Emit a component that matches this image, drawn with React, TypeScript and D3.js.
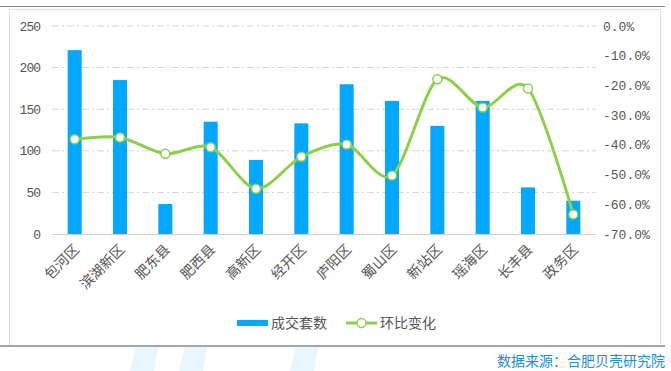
import React from "react";
import * as d3 from "d3";

const categories = ["包河区", "滨湖新区", "肥东县", "肥西县", "高新区", "经开区", "庐阳区", "蜀山区", "新站区", "瑶海区", "长丰县", "政务区"];
const deals = [221, 185, 36, 135, 89, 133, 180, 160, 130, 160, 56, 40];
const change = [-38.1, -37.5, -43.0, -40.8, -54.8, -44.0, -39.9, -50.3, -17.9, -27.4, -21.0, -63.4];
const leftTicks = [0, 50, 100, 150, 200, 250];
const rightTicks = [0, -10, -20, -30, -40, -50, -60, -70];

const BLUE = "#00a9ff";
const GREEN = "#8dcf4b";

export default function App() {
  const left = 52, right = 596, top = 26, bottom = 234;
  const x = d3.scaleBand<string>().domain(categories).range([left, right]).padding(0);
  const yL = d3.scaleLinear().domain([0, 250]).range([bottom, top]);
  const yR = d3.scaleLinear().domain([-70, 0]).range([bottom, top]);
  const bw = x.bandwidth();
  const barW = 14;
  const cx = (c: string) => (x(c) as number) + bw / 2;

  const line = d3
    .line<number>()
    .x((_, i) => cx(categories[i]))
    .y((d) => yR(d))
    .curve(d3.curveCardinal.tension(0.1));

  const numFont = "'Liberation Mono', 'DejaVu Sans Mono', monospace";
  const cjk = "'Noto Sans CJK SC', sans-serif";

  const water = [130, 179, 290];

  return (
    <svg width={671} height={371} style={{ position: "absolute", left: 0, top: 0, background: "#fff" }}>
      {water.map((wx, i) => (
        <polygon
          key={i}
          points={`${wx + 6},347 ${wx + 28},347 ${wx + 24},371 ${wx},371`}
          fill="#e8f7fd"
        />
      ))}
      <line x1={0} x2={665} y1={6.5} y2={6.5} stroke="#8a8a8a" strokeWidth={1.2} />
      <path d="M9.5,346 V9.5 H660.5 V344" fill="none" stroke="#dcdcdc" strokeWidth={1} />
      <line x1={0} x2={665} y1={346} y2={346} stroke="#8a8a8a" strokeWidth={1.4} />

      {leftTicks.filter((t) => t > 0).map((t) => (
        <line
          key={t}
          x1={left}
          x2={right}
          y1={yL(t)}
          y2={yL(t)}
          stroke="#d4d4d4"
          strokeDasharray="7,3,2,3"
        />
      ))}
      <line x1={left} x2={right} y1={bottom + 0.5} y2={bottom + 0.5} stroke="#cfcfcf" strokeWidth={1} />

      {leftTicks.map((t) => (
        <text key={t} x={40} y={yL(t)} dy="0.35em" textAnchor="end" fontSize={13} fill="#555" fontFamily={numFont} letterSpacing={-1}>
          {t}
        </text>
      ))}
      {rightTicks.map((t) => (
        <text key={t} x={603} y={yR(t)} dy="0.35em" textAnchor="start" fontSize={13} fill="#555" fontFamily={numFont}>
          {t.toFixed(1) + "%"}
        </text>
      ))}

      {categories.map((c, i) => (
        <rect key={c} x={cx(c) - barW / 2} y={yL(deals[i])} width={barW} height={bottom - yL(deals[i])} fill={BLUE} />
      ))}

      <path d={line(change) || ""} fill="none" stroke={GREEN} strokeWidth={3} />
      {change.map((v, i) => (
        <circle key={i} cx={cx(categories[i])} cy={yR(v)} r={4.5} fill="#fff" stroke={GREEN} strokeWidth={1.5} />
      ))}

      {categories.map((c) => (
        <text
          key={c}
          transform={`translate(${cx(c) + 2},${bottom + 13}) rotate(-45)`}
          textAnchor="end"
          dy="0.35em"
          fontSize={14}
          fill="#555"
          fontFamily={cjk}
        >
          {c}
        </text>
      ))}

      <rect x={237} y={320} width={31} height={6} fill={BLUE} />
      <text x={271} y={323.5} dy="0.35em" fontSize={14} fill="#555" fontFamily={cjk}>成交套数</text>
      <line x1={346} x2={377} y1={323} y2={323} stroke={GREEN} strokeWidth={3} />
      <circle cx={361.5} cy={323} r={4.5} fill="#fff" stroke={GREEN} strokeWidth={1.5} />
      <text x={380} y={323.5} dy="0.35em" fontSize={14} fill="#555" fontFamily={cjk}>环比变化</text>

      <text x={665} y={361} dy="0.35em" textAnchor="end" fontSize={14} fill="#1a8fd6" fontFamily={cjk}>
        数据来源：合肥贝壳研究院
      </text>
    </svg>
  );
}
